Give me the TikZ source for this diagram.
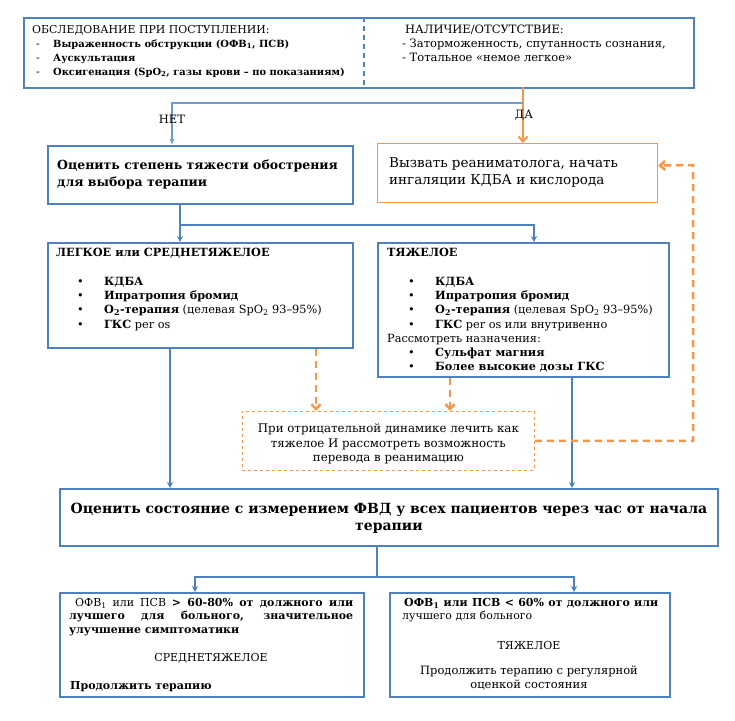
\documentclass[tikz,border=0pt]{standalone}
\usepackage{fontspec}
\setmainfont{DejaVu Serif}
\usetikzlibrary{arrows.meta}
\definecolor{boxblue}{RGB}{79,129,189}
\definecolor{boxorange}{RGB}{247,150,70}
\newcommand{\bul}[1]{\hspace{21pt}\makebox[27pt][l]{\textbullet}#1}
\newcommand{\dsh}[1]{\makebox[21pt][l]{\hspace{4pt}-}{\fontsize{9.9}{14}\selectfont\bfseries #1}}

\begin{document}
\begin{tikzpicture}[x=1pt, y=-1pt,
    box/.style={draw=boxblue, line width=1.8pt, anchor=north west, inner sep=0pt},
    obox/.style={draw=boxorange, line width=1.2pt, anchor=north west, inner sep=0pt},
    dbox/.style={draw=boxorange, dashed, line width=0.8pt, anchor=north west, inner sep=0pt},
    txt/.style={anchor=north west, inner sep=0pt, align=left},
    link/.style={draw=boxblue, line width=2pt, -{Stealth[length=6pt,width=6pt]}},
    olink/.style={draw=boxorange, line width=2pt, -{Straight Barb[length=5pt,width=9pt]}},
    dlink/.style={draw=boxorange, line width=2.5pt, dash pattern=on 7pt off 5pt, -{Straight Barb[length=5pt,width=9pt]}}]
    \useasboundingbox (0,0) rectangle (735,720);
    % admission
    \node[box, minimum width=670pt, minimum height=70pt] (exam) at (23,17) {};
    \draw[boxblue, line width=1.2pt, dash pattern=on 5pt off 4pt] (364,17) -- (364,87);
    \node[txt, font=\fontsize{10.9}{14}\selectfont] (examL) at (32,25) {ОБСЛЕДОВАНИЕ ПРИ ПОСТУПЛЕНИИ:\\
        \dsh{Выраженность обструкции (ОФВ\textsubscript{1}, ПСВ)}\\
        \dsh{Аускультация}\\
        \dsh{Оксигенация (SpO\textsubscript{2}, газы крови – по показаниям)}};
    \node[txt, font=\fontsize{11.5}{14}\selectfont] (examR) at (402,25) {\hspace{3pt}НАЛИЧИЕ/ОТСУТСТВИЕ:\\
        - Заторможенность, спутанность сознания,\\
        - Тотальное «немое легкое»};
    % yes / no
    \coordinate (da) at (523,87);
    \coordinate (split) at (523,103);
    \coordinate (netin) at (172,145);
    \node[obox, minimum width=280pt, minimum height=59pt] (call) at (377,143) {};
    \node[box, minimum width=305pt, minimum height=58pt] (grade) at (47,145) {};
    \draw[olink] (da) -- (da |- call.north);
    \draw[draw=boxblue!80, line width=1.2pt, -{Latex[open,length=6pt,width=5pt]}] (split) -| (netin);
    \node[font=\fontsize{11.5}{13}\selectfont] (no) at (172,119) {НЕТ};
    \node[font=\fontsize{11.5}{13}\selectfont] (yes) at (524,115) {ДА};
    \node[txt, font=\bfseries\fontsize{12.5}{16.5}\selectfont] (gradetxt) at (57,160) {Оценить степень тяжести обострения\\для выбора терапии};
    \node[txt, font=\fontsize{13.5}{17}\selectfont] (calltxt) at (389,157) {Вызвать реаниматолога, начать\\ингаляции КДБА и кислорода};
    % severity
    \coordinate (fork1) at (180,225);
    \coordinate (sevin) at (534,242);
    \node[box, minimum width=305pt, minimum height=105pt] (mild) at (47,242) {};
    \node[box, minimum width=291pt, minimum height=134pt] (severe) at (377,242) {};
    \draw[boxblue, line width=2pt] (grade.south -| fork1) -- (fork1);
    \draw[link] (fork1) -- (fork1 |- mild.north);
    \draw[link] (fork1) -| (sevin);
    \node[txt, font=\fontsize{11.3}{14.3}\selectfont] (mildtxt) at (56,248) {\textbf{ЛЕГКОЕ или СРЕДНЕТЯЖЕЛОЕ}\\[14.3pt]
        \bul{\textbf{КДБА}}\\
        \bul{\textbf{Ипратропия бромид}}\\
        \bul{\textbf{O\textsubscript{2}-терапия} (целевая SpO\textsubscript{2} 93–95\%)}\\
        \bul{\textbf{ГКС} per os}};
    \node[txt, font=\fontsize{11.3}{14.3}\selectfont] (severetxt) at (387,248) {\textbf{ТЯЖЕЛОЕ}\\[14.3pt]
        \bul{\textbf{КДБА}}\\
        \bul{\textbf{Ипратропия бромид}}\\
        \bul{\textbf{O\textsubscript{2}-терапия} (целевая SpO\textsubscript{2} 93–95\%)}\\
        \bul{\textbf{ГКС} per os или внутривенно}\\
        Рассмотреть назначения:\\
        \bul{\textbf{Сульфат магния}}\\
        \bul{\textbf{Более высокие дозы ГКС}}};
    % worsening
    \node[dbox, minimum width=292pt, minimum height=59pt] (worse) at (242,411) {};
    \node[font=\fontsize{11.8}{14.5}\selectfont, align=center] (worsetxt) at ([yshift=-3pt]worse.center) {При отрицательной динамике лечить как\\тяжелое И рассмотреть возможность\\перевода в реанимацию};
    \coordinate (loop) at (693,165);
    \node[box, minimum width=658pt, minimum height=57pt] (check) at (59,488) {};
    \draw[link] ([xshift=123pt]mild.south west) -- ([xshift=111pt]check.north west);
    \draw[link] ([xshift=195pt]severe.south west) -- ([xshift=513pt]check.north west);
    \draw[dlink] ([xshift=269pt]mild.south west) -- ([xshift=74pt]worse.north west);
    \draw[dlink] ([xshift=73pt]severe.south west) -- ([xshift=208pt]worse.north west);
    \draw[dlink] (worse.east) -| (loop) -- ([yshift=7.5pt]call.east);
    \node[font=\bfseries\fontsize{14}{17}\selectfont, align=center] (checktxt) at ([yshift=-1pt]check.center) {Оценить состояние с измерением ФВД у всех пациентов через час от начала\\терапии};
    % response
    \coordinate (fork2) at (377,577);
    \node[box, minimum width=304pt, minimum height=104pt] (good) at (59,592) {};
    \node[box, minimum width=280pt, minimum height=104pt] (poor) at (389,592) {};
    \draw[boxblue, line width=2pt] (check.south -| fork2) -- (fork2);
    \draw[link] (fork2) -| ([xshift=136pt]good.north west);
    \draw[link] (fork2) -| ([xshift=185pt]poor.north west);
    \node[txt, text width=284pt, align=justify, font=\fontsize{11}{13.5}\selectfont] (goodtxt) at (69,598) {\hspace*{6pt}ОФВ\textsubscript{1} или ПСВ \textbf{> 60-80\% от должного или}\linebreak
        \textbf{лучшего для больного, значительное}\linebreak
        \textbf{улучшение симптоматики}};
    \node[font=\fontsize{11}{13.5}\selectfont] (goodlvl) at (211,658) {СРЕДНЕТЯЖЕЛОЕ};
    \node[txt, font=\bfseries\fontsize{11}{13.5}\selectfont] (goodact) at (70,681) {Продолжить терапию};
    \node[txt, text width=256pt, align=justify, font=\fontsize{11}{13.5}\selectfont] (poortxt) at (402,598) {\hspace*{2pt}\textbf{ОФВ\textsubscript{1} или ПСВ < 60\% от должного или}\linebreak
        лучшего для больного};
    \node[font=\fontsize{11}{13.5}\selectfont] (poorlvl) at (529,645) {ТЯЖЕЛОЕ};
    \node[font=\fontsize{11.5}{14}\selectfont, align=center] (pooract) at (529,678) {Продолжить терапию с регулярной\\оценкой состояния};
\end{tikzpicture}
\end{document}
